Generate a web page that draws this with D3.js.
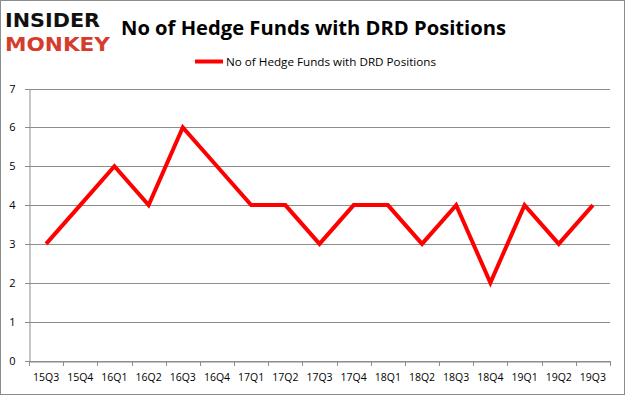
<!DOCTYPE html>
<html><head><meta charset="utf-8">
<script src="https://cdn.jsdelivr.net/npm/d3@7"></script>
<style>body{margin:0;background:#fff}svg{display:block}</style>
</head><body>
<script>
const categories = ["15Q3","15Q4","16Q1","16Q2","16Q3","16Q4","17Q1","17Q2","17Q3","17Q4","18Q1","18Q2","18Q3","18Q4","19Q1","19Q2","19Q3"];
const values = [3,4,5,4,6,5,4,4,3,4,4,3,4,2,4,3,4];
const yTicks = [0,1,2,3,4,5,6,7];
const seriesName = "No of Hedge Funds with DRD Positions";
const title = "No of Hedge Funds with DRD Positions";

const W = 625, H = 395;
const svg = d3.select("body").append("svg").attr("width", W).attr("height", H);
svg.append("rect").attr("x",0.5).attr("y",0.5).attr("width",W-1).attr("height",H-1)
  .attr("fill","#fff").attr("stroke","#8c8c8c").attr("stroke-width",1);

const x = d3.scaleBand().domain(categories).range([29, 610]);
const y = d3.scaleLinear().domain([0,7]).range([360.5, 88.5]);

// gridlines
svg.append("g").selectAll("line").data(yTicks).join("line")
  .attr("x1", 25).attr("x2", 610)
  .attr("y1", d => Math.round(y(d))+0.5).attr("y2", d => Math.round(y(d))+0.5)
  .attr("stroke", "#8c8c8c").attr("stroke-width", 1);

// y axis
const yAxis = svg.append("g").attr("transform","translate(29.5,0)")
  .call(d3.axisLeft(y).tickValues(yTicks).tickFormat(d3.format("d")).tickSize(0).tickPadding(14));
yAxis.select(".domain").attr("stroke","#8c8c8c");
yAxis.selectAll("text").attr("font-family","Open Sans, DejaVu Sans, sans-serif").attr("font-size",11).attr("fill","#000");

// x axis
const xAxis = svg.append("g").attr("transform",`translate(0,${Math.round(y(0))+0.5})`)
  .call(d3.axisBottom(x).tickSize(0).tickPadding(12));
xAxis.select(".domain").attr("stroke","#8c8c8c");
xAxis.selectAll("text").attr("font-family","Open Sans, DejaVu Sans, sans-serif").attr("font-size",10.5).attr("fill","#000");
const bounds = categories.map(c => x(c)).concat([x.range()[1]]);
svg.append("g").selectAll("line").data(bounds).join("line")
  .attr("x1", d => Math.round(d)+0.5).attr("x2", d => Math.round(d)+0.5)
  .attr("y1", Math.round(y(0))).attr("y2", Math.round(y(0))+5)
  .attr("stroke","#8c8c8c");

// line
const line = d3.line().x((d,i) => x(categories[i]) + x.bandwidth()/2).y(d => y(d));
svg.append("path").datum(values).attr("d", line)
  .attr("fill","none").attr("stroke","#ff0000").attr("stroke-width",4).attr("stroke-linejoin","miter");

// legend
svg.append("line").attr("x1",195).attr("x2",223).attr("y1",61.5).attr("y2",61.5)
  .attr("stroke","#ff0000").attr("stroke-width",4);
svg.append("text").attr("x",226).attr("y",65.5).text(seriesName)
  .attr("font-family","Open Sans, DejaVu Sans, sans-serif").attr("font-size",11).attr("fill","#000")
  .attr("textLength",210).attr("lengthAdjust","spacingAndGlyphs");

// title
svg.append("text").attr("x",121).attr("y",35).text(title)
  .attr("font-family","Open Sans, DejaVu Sans, sans-serif").attr("font-weight","bold").attr("font-size",20).attr("fill","#000")
  .attr("textLength",385).attr("lengthAdjust","spacingAndGlyphs");

// logo
svg.append("text").attr("x",5).attr("y",27).text("INSIDER")
  .attr("font-family","DejaVu Sans, sans-serif").attr("font-weight","bold").attr("font-size",20).attr("fill","#111")
  .attr("textLength",95).attr("lengthAdjust","spacingAndGlyphs");
svg.append("text").attr("x",5).attr("y",51).text("MONKEY")
  .attr("font-family","DejaVu Sans, sans-serif").attr("font-weight","bold").attr("font-size",20).attr("fill","#d63c2b")
  .attr("textLength",105).attr("lengthAdjust","spacingAndGlyphs");
</script>
</body></html>
